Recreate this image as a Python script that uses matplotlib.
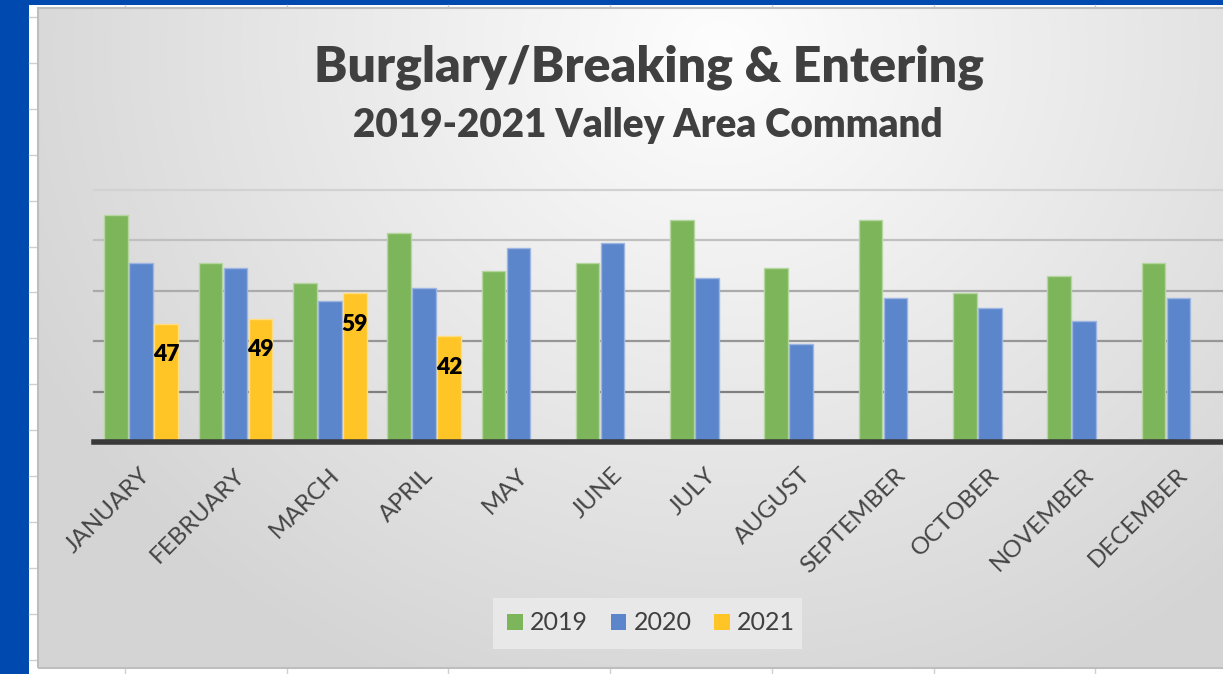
import numpy as np
import matplotlib
matplotlib.use("Agg")
import matplotlib.pyplot as plt
from matplotlib.patches import Rectangle, Patch
from matplotlib.lines import Line2D
from matplotlib.transforms import ScaledTranslation

months = ["JANUARY", "FEBRUARY", "MARCH", "APRIL", "MAY", "JUNE", "JULY",
          "AUGUST", "SEPTEMBER", "OCTOBER", "NOVEMBER", "DECEMBER"]
v2019 = [90, 71, 63, 83, 68, 71, 88, 69, 88, 59, 66, 71]
v2020 = [71, 69, 56, 61, 77, 79, 65, 39, 57, 53, 48, 57]
v2021 = [47, 49, 59, 42]
series_names = ["2019", "2020", "2021"]
gridvals = [20, 40, 60, 80, 100]

W, H = 1223, 674
DPI = 100
plt.rcParams['font.family'] = ['Lato', 'DejaVu Sans']

fig = plt.figure(figsize=(W / DPI, H / DPI), dpi=DPI)
fig.patch.set_facecolor("white")

def fx(px):
    return px / W

def fy(py):
    return 1 - py / H

# blue frame
fig.add_artist(Rectangle((0, 0), fx(29), 1, transform=fig.transFigure,
                         facecolor="#0049AE", edgecolor="none", zorder=0))
fig.add_artist(Rectangle((0, fy(5)), 1, 5 / H, transform=fig.transFigure,
                         facecolor="#0049AE", edgecolor="none", zorder=0))
# spreadsheet cell lines
for yy in np.arange(17, 674, 45.9):
    fig.add_artist(Line2D([fx(29), fx(38)], [fy(yy), fy(yy)], transform=fig.transFigure,
                          color="#D0D0D0", lw=1, zorder=0))
for xx in np.arange(125, 1223, 161.7):
    fig.add_artist(Line2D([fx(xx), fx(xx)], [fy(5), fy(9)], transform=fig.transFigure,
                          color="#D0D0D0", lw=1, zorder=0))
    fig.add_artist(Line2D([fx(xx), fx(xx)], [fy(668), 0], transform=fig.transFigure,
                          color="#D0D0D0", lw=1, zorder=0))

# chart area background gradient
cx0, cy0, cx1, cy1 = 38, 8, 1223, 668
bg = fig.add_axes([fx(cx0), fy(cy1), fx(cx1 - cx0), (cy1 - cy0) / H], zorder=0)
xs = np.arange(cx0, cx1)
ys = np.arange(cy0, cy1)
X, Y = np.meshgrid(xs, ys)
d = np.hypot(X - 720, (Y - 50) * 1.1)
v = 0.995 - 0.16 * np.clip(d / 760, 0, 1)
img = np.dstack([v, v, v])
bg.imshow(img, aspect="auto", extent=(0, 1, 0, 1), origin="upper")
bg.set_axis_off()
fig.add_artist(Rectangle((fx(cx0), fy(cy1)), fx(cx1 - cx0 + 10), (cy1 - cy0) / H,
                         transform=fig.transFigure, facecolor="none",
                         edgecolor="#BEBEBE", lw=1.5, zorder=1))

# legend box
fig.add_artist(Rectangle((fx(493), fy(649)), fx(802 - 493), (649 - 598) / H,
                         transform=fig.transFigure, facecolor="#EAEAEA",
                         edgecolor="none", alpha=0.9, zorder=1))

# main axes
left_px, right_px = 94, 94 + 12 * 94.3
top_px, bot_px = 190, 442
ax = fig.add_axes([fx(left_px), fy(bot_px), fx(right_px - left_px), (bot_px - top_px) / H],
                  zorder=2)
ax.set_facecolor("none")
ax.set_xlim(-0.5, 11.5)
ax.set_ylim(0, 100)
for s in ax.spines.values():
    s.set_visible(False)

gridcolors = ["#7F7F7F", "#969696", "#ABABAB", "#C0C0C0", "#D2D2D2"]
for gv, gc in zip(gridvals, gridcolors):
    ax.axhline(gv, color=gc, lw=1.6, zorder=1, clip_on=False)
ax.axhline(0, color="#3A3A3A", lw=4, zorder=4, clip_on=False)

x = np.arange(len(months))
bw = 0.25
off = 0.265
colors = ["#7DB55B", "#5B86CC", "#FFC526"]
edges = ["#B5D69E", "#9DB5E0", "#FFDD80"]
ax.bar(x - off, v2019, bw, color=colors[0], edgecolor=edges[0], lw=1, zorder=3)
ax.bar(x, v2020, bw, color=colors[1], edgecolor=edges[1], lw=1, zorder=3)
x21 = np.arange(len(v2021))
ax.bar(x21 + off, v2021, bw, color=colors[2], edgecolor=edges[2], lw=1, zorder=3)

for xi, val in zip(x21, v2021):
    ax.annotate(str(val), (xi + off, val), xytext=(0, -31), textcoords="offset pixels",
                ha="center", va="center", fontsize=16.5, fontweight="heavy",
                color="black", zorder=5)

ax.set_yticks([])
ax.set_xticks(x)
ax.set_xticklabels(months, rotation=45, ha="right", va="center",
                   rotation_mode="anchor", fontsize=17.5, color="#454545")
ax.tick_params(axis="x", length=0, pad=21.5)
shift = ScaledTranslation(6 / DPI, 0, fig.dpi_scale_trans)
for lab in ax.get_xticklabels():
    lab.set_transform(lab.get_transform() + shift)

# titles
fig.text(fx(649), fy(82), "Burglary/Breaking & Entering", ha="center", va="baseline",
         fontsize=36, fontweight="heavy", color="#404040")
fig.text(fx(648), fy(137), "2019-2021 Valley Area Command", ha="center", va="baseline",
         fontsize=27.8, fontweight="heavy", color="#404040")

handles = [Patch(facecolor=c, edgecolor="none") for c in colors]
leg = fig.legend(handles, series_names, loc="center", bbox_to_anchor=(fx(651), fy(623)),
                 ncol=3, frameon=False, fontsize=18, handlelength=0.62, handleheight=0.62,
                 handletextpad=0.3, columnspacing=0.9, borderpad=0.5)
for t in leg.get_texts():
    t.set_color("#404040")

fig.savefig("out.png", dpi=DPI)
